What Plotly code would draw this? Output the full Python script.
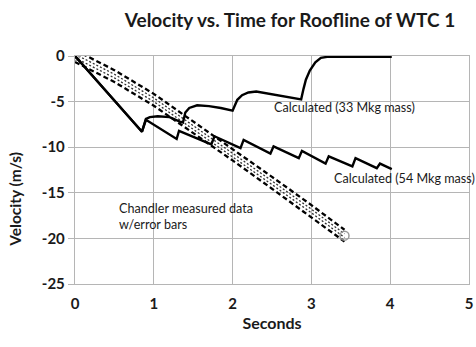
import plotly.graph_objects as go

# Calculated (33 Mkg mass)
t33 = [0, 0.85, 0.90, 0.95, 1.05, 1.20, 1.33, 1.37, 1.40, 1.45, 1.55, 1.70, 1.85, 2.00, 2.02, 2.06, 2.12, 2.20,
       2.30, 2.50, 2.70, 2.87, 2.90, 2.93, 2.98, 3.05, 3.12, 3.20, 4.02]
v33 = [0, -8.3, -6.9, -6.7, -6.6, -6.7, -7.2, -7.3, -6.2, -5.7, -5.4, -5.5, -5.7, -6.0, -5.6, -4.8, -4.3, -4.0,
       -3.9, -4.2, -4.5, -4.75, -3.6, -2.6, -1.6, -0.7, -0.2, -0.1, -0.1]

# Calculated (54 Mkg mass)
t54 = [0, 0.85, 0.90, 1.29, 1.32, 1.73, 1.77, 2.10, 2.14, 2.48, 2.52, 2.84, 2.88, 3.18, 3.22, 3.52, 3.56, 3.83, 3.87, 4.02]
v54 = [0, -8.3, -7.0, -9.1, -8.2, -9.7, -8.8, -10.1, -9.2, -10.7, -9.9, -11.2, -10.4, -11.8, -11.0, -12.1, -11.2, -12.3, -11.8, -12.4]

# Chandler measured data
tch = [0, 0.5, 1.0, 1.5, 2.0, 2.5, 3.0, 3.42]
vch = [0, -2.2, -4.8, -7.8, -10.8, -13.9, -17.0, -19.7]
err = 0.65

xticks = [0, 1, 2, 3, 4, 5]
yticks = [0, -5, -10, -15, -20, -25]

FONT = "Lato"
TXT = "#1a1a1a"
W, H = 476, 347
fig = go.Figure()

# error bar band
for sgn in (1, -1):
    fig.add_trace(go.Scatter(x=tch, y=[v + sgn * err for v in vch], mode="lines",
                             line=dict(color="black", width=2.3, dash="5px,3px"), showlegend=False))
for sgn in (1, -1):
    fig.add_trace(go.Scatter(x=tch, y=[v + sgn * 0.2 for v in vch], mode="lines",
                             line=dict(color="#333", width=1.3, dash="2px,2px"), showlegend=False))
fig.add_trace(go.Scatter(x=[tch[0], tch[-1]], y=[vch[0], vch[-1]], mode="markers",
                         marker=dict(symbol="circle-open", size=9, color="#999", line=dict(width=1.5)),
                         showlegend=False))

fig.add_trace(go.Scatter(x=t54, y=v54, mode="lines", line=dict(color="black", width=2.4), showlegend=False))
fig.add_trace(go.Scatter(x=t33, y=v33, mode="lines", line=dict(color="black", width=2.4), showlegend=False))

ann_font = dict(family=FONT, size=12.6, color=TXT)
fig.add_annotation(x=2.5, y=-5.7, text="Calculated (33 Mkg mass)", showarrow=False,
                   xanchor="left", yanchor="middle", font=ann_font)
fig.add_annotation(x=3.26, y=-13.4, text="Calculated (54 Mkg mass)", showarrow=False,
                   xanchor="left", yanchor="middle", font=ann_font)
fig.add_annotation(x=0.53, y=-17.6, text="Chandler measured data<br>w/error bars", showarrow=False,
                   xanchor="left", yanchor="middle", align="left", font=ann_font)

# y-axis title placed as in the reference (below plot centre)
fig.add_annotation(xref="paper", yref="paper", x=-0.152, y=0.37, text="<b>Velocity (m/s)</b>",
                   textangle=-90, showarrow=False, xanchor="center", yanchor="middle",
                   font=dict(family=FONT, size=15.5, color=TXT))

fig.update_layout(
    width=W, height=H,
    margin=dict(l=75, r=7, t=56, b=63, autoexpand=False),
    paper_bgcolor="white", plot_bgcolor="white",
    title=dict(text="<b>Velocity vs. Time for Roofline of WTC 1</b>", x=290 / W, xanchor="center",
               y=1 - 20 / H, yanchor="middle", font=dict(family=FONT, size=19, color=TXT)),
    font=dict(family=FONT, color=TXT),
    hovermode=False,
)
fig.update_xaxes(range=[0, 5], tickvals=xticks, ticktext=["<b>%d</b>" % v for v in xticks],
                 showgrid=True, gridcolor="#b5b5b5", gridwidth=1.4, zeroline=False, automargin=False,
                 showline=True, linecolor="#b5b5b5", linewidth=1.4, mirror=True,
                 tickfont=dict(family=FONT, size=15, color=TXT), ticks="outside", ticklen=6,
                 tickcolor="rgba(0,0,0,0)",
                 title=dict(text="<b>Seconds</b>", font=dict(family=FONT, size=16, color=TXT), standoff=6))
fig.update_yaxes(range=[-25, 0], tickvals=yticks, ticktext=["<b>%d</b>" % v for v in yticks],
                 showgrid=True, gridcolor="#b5b5b5", gridwidth=1.4, zeroline=False, automargin=False,
                 showline=True, linecolor="#b5b5b5", linewidth=1.4, mirror=True,
                 ticks="outside", ticklen=6, tickcolor="#b5b5b5", tickwidth=1.4,
                 tickfont=dict(family=FONT, size=15, color=TXT))

fig.write_html("out.html", config={"displayModeBar": False},
               post_script="document.body.style.margin='0';document.documentElement.style.overflow='hidden';")
